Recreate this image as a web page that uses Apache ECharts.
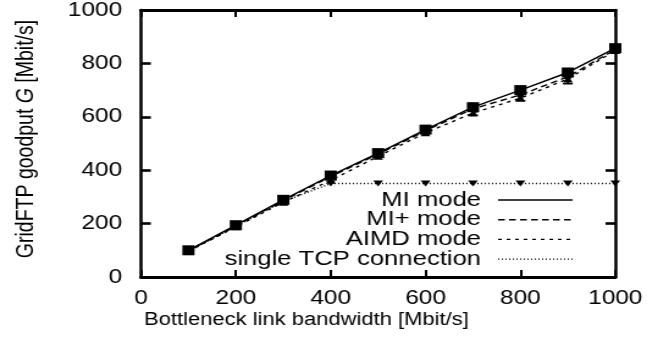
<!DOCTYPE html>
<html>
<head>
<meta charset="utf-8">
<script src="https://cdn.jsdelivr.net/npm/echarts@6/dist/echarts.min.js"></script>
<style>
html,body{margin:0;padding:0;background:#fff;overflow:hidden;width:647px;height:344px;}
#wrap{width:530px;height:344px;transform:scaleX(1.2208);transform-origin:0 0;}
#chart{width:530px;height:344px;}
</style>
</head>
<body>
<div id="wrap"><div id="chart"></div></div>
<script>
var bandwidth = [100, 200, 300, 400, 500, 600, 700, 800, 900, 1000];
var miMode    = [100, 194, 289, 380, 464, 552, 636, 700, 766, 857];
var miPlus    = [98, 192, 286, 376, 460, 548, 630, 682, 750, 852];
var aimdMode  = [96, 188, 280, 362, 452, 540, 614, 670, 742, 848];
var singleTcp = [97, 190, 283, 350, 350, 350, 350, 350, 350, 350];
var aimdErrX    = [700, 800, 900];
var aimdErrLow  = [606, 660, 724];
var aimdErrHigh = [622, 686, 760];
var xTicks = [0, 200, 400, 600, 800, 1000];
var yTicks = [0, 200, 400, 600, 800, 1000];
var legendNames = ['MI mode', 'MI+ mode', 'AIMD mode', 'single TCP connection'];

function pairs(ys){ return bandwidth.map(function(x,i){ return [x, ys[i]]; }); }
var FONT = 'Liberation Sans, Arial, Helvetica, sans-serif';

var chart = echarts.init(document.getElementById('chart'), null, {renderer:'canvas'});

function axisCommon(pos, showLabel, isX){
  return {
    type:'value', position:pos, min:0, max:1000, interval:200,
    splitLine:{show:false},
    axisLine:{show:true, onZero:false, lineStyle:{color:'#000', width: isX ? 3 : 2.5}},
    axisTick:{show:true, inside:true, length: isX ? 7 : 8, lineStyle:{color:'#000', width: isX ? 2 : 2.6}},
    axisLabel:{show:showLabel, color:'#000', fontFamily:FONT, fontSize:20, margin: isX ? 11 : 15.5,
      formatter:function(v){ return (isX ? xTicks : yTicks).indexOf(v) >= 0 ? String(v) : ''; }}
  };
}

var errSeries = {
  type:'custom', z:4,
  data: aimdErrX.map(function(x,i){ return [x, aimdErrLow[i], aimdErrHigh[i]]; }),
  renderItem:function(params, api){
    var lo = api.coord([api.value(0), api.value(1)]);
    var hi = api.coord([api.value(0), api.value(2)]);
    var w = 4;
    var st = {stroke:'#000', lineWidth:1.6};
    return {type:'group', children:[
      {type:'line', shape:{x1:lo[0], y1:lo[1], x2:hi[0], y2:hi[1]}, style:st},
      {type:'line', shape:{x1:lo[0]-w, y1:lo[1], x2:lo[0]+w, y2:lo[1]}, style:st},
      {type:'line', shape:{x1:hi[0]-w, y1:hi[1], x2:hi[0]+w, y2:hi[1]}, style:st}
    ]};
  }
};

var lx1 = 408, lx2 = 469, ltx = 394, ly0 = 200, ldy = 19.7;
var legendDash = [null, [5.5, 3.5], [3, 4], [1, 2]];
var graphics = [];
legendNames.forEach(function(n, i){
  var y = ly0 + i * ldy;
  graphics.push({type:'text', x:ltx, y:y, style:{text:n, font:'21px ' + FONT, fill:'#000', align:'right', verticalAlign:'middle'}});
  graphics.push({type:'line', shape:{x1:lx1, y1:y, x2:lx2, y2:y},
    style:{stroke:'#000', lineWidth:1.4, lineDash: legendDash[i] || null}});
});
graphics.push({type:'text', x:251, y:320, style:{text:'Bottleneck link bandwidth [Mbit/s]', font:'18px ' + FONT, fill:'#000', align:'center', verticalAlign:'middle'}});
graphics.push({type:'text', x:22, y:139, rotation:Math.PI/2,
  style:{rich:{a:{fontFamily:FONT, fontSize:19.5, fill:'#000'}, i:{fontFamily:FONT, fontSize:19.5, fontStyle:'italic', fill:'#000'}},
    text:'{a|GridFTP goodput }{i|G}{a| [Mbit/s]}', align:'center', verticalAlign:'middle'}});

chart.setOption({
  animation:false,
  backgroundColor:'#fff',
  grid:{left:115.5, right:26, top:9, bottom:67, containLabel:false},
  xAxis:[axisCommon('bottom',true,true), axisCommon('top',false,true)],
  yAxis:[axisCommon('left',true,false), axisCommon('right',false,false)],
  series:[
    {name:legendNames[3], type:'line', data:pairs(singleTcp), z:2, symbol:'triangle', symbolRotate:180, symbolSize:[8,6],
      itemStyle:{color:'#000'}, lineStyle:{color:'#000', width:1.4, type:[1,2]}},
    {name:legendNames[2], type:'line', data:pairs(aimdMode), z:3, symbol:'triangle', symbolSize:[8,7],
      itemStyle:{color:'#000'}, lineStyle:{color:'#000', width:1.4, type:[3,4]}},
    {name:legendNames[1], type:'line', data:pairs(miPlus), z:4, symbol:'circle', symbolSize:6,
      itemStyle:{color:'#000'}, lineStyle:{color:'#000', width:1.4, type:[5.5,3.5]}},
    errSeries,
    {name:legendNames[0], type:'line', data:pairs(miMode), z:5, symbol:'rect', symbolSize:10,
      itemStyle:{color:'#000'}, lineStyle:{color:'#000', width:1.5, type:'solid'}}
  ],
  graphic:graphics
});
</script>
</body>
</html>
